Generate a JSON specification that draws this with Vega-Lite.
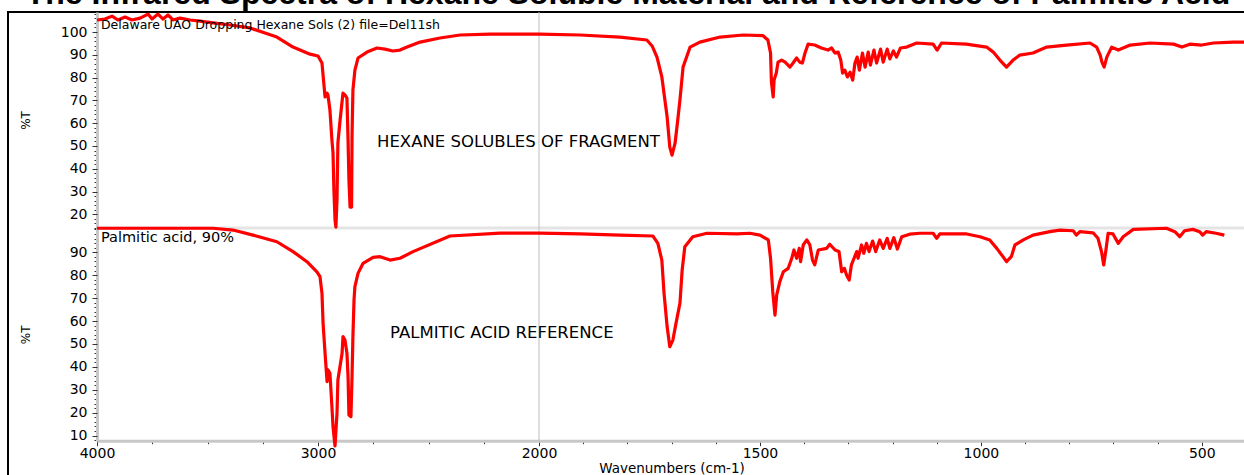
{
  "$schema": "https://vega.github.io/schema/vega-lite/v6.json",
  "width": 1240,
  "height": 467,
  "autosize": "none",
  "padding": {"left": 8, "top": 12, "right": 0, "bottom": 0},
  "background": "white",
  "title": {"text": "The Infrared Spectra of Hexane Soluble Material and Reference of Palmitic Acid", "font": "Liberation Sans", "fontSize": 32, "fontWeight": "bold", "color": "#000", "anchor": "middle", "offset": 1},
  "config": {
    "view": {"stroke": "#000", "strokeWidth": 2},
    "axis": {"labelFont": "DejaVu Sans", "labelFontSize": 14, "labelColor": "#000", "domainColor": "#c8c8c8", "domainWidth": 3, "tickColor": "#333", "tickWidth": 1, "grid": false, "titleColor": "#000", "titleFont": "DejaVu Sans", "titleFontWeight": "normal", "labelOverlap": false, "labelFlush": false}
  },
  "datasets": {
    "top": [
      {"wn":4000,"T":105.3},{"wn":3964,"T":105.7},{"wn":3932,"T":107.0},{"wn":3905,"T":105.3},{"wn":3873,"T":106.6},{"wn":3842,"T":105.3},{"wn":3805,"T":106.1},{"wn":3769,"T":107.9},{"wn":3751,"T":105.7},{"wn":3724,"T":107.9},{"wn":3701,"T":105.7},{"wn":3679,"T":107.5},{"wn":3656,"T":105.3},{"wn":3624,"T":106.1},{"wn":3579,"T":105.3},{"wn":3534,"T":104.8},{"wn":3466,"T":103.9},{"wn":3398,"T":103.1},{"wn":3308,"T":101.8},{"wn":3240,"T":99.6},{"wn":3186,"T":97.8},{"wn":3113,"T":93.4},{"wn":3036,"T":90.3},{"wn":3000,"T":89.5},{"wn":2982,"T":86.4},{"wn":2973,"T":76.7},{"wn":2968,"T":71.5},{"wn":2959,"T":73.2},{"wn":2955,"T":72.4},{"wn":2946,"T":65.8},{"wn":2937,"T":52.6},{"wn":2932,"T":46.9},{"wn":2928,"T":30.7},{"wn":2923,"T":17.5},{"wn":2919,"T":14.4},{"wn":2914,"T":26.3},{"wn":2910,"T":51.3},{"wn":2900,"T":61.4},{"wn":2887,"T":73.2},{"wn":2878,"T":72.4},{"wn":2869,"T":71.0},{"wn":2864,"T":52.6},{"wn":2860,"T":35.1},{"wn":2855,"T":23.2},{"wn":2848,"T":23.2},{"wn":2846,"T":53.9},{"wn":2842,"T":74.5},{"wn":2833,"T":83.3},{"wn":2819,"T":88.6},{"wn":2778,"T":91.2},{"wn":2733,"T":93.0},{"wn":2697,"T":92.5},{"wn":2661,"T":91.7},{"wn":2629,"T":92.1},{"wn":2597,"T":93.4},{"wn":2538,"T":95.6},{"wn":2448,"T":97.4},{"wn":2357,"T":98.7},{"wn":2222,"T":99.1},{"wn":2086,"T":99.1},{"wn":2000,"T":99.1},{"wn":1907,"T":98.7},{"wn":1817,"T":97.8},{"wn":1756,"T":96.5},{"wn":1744,"T":93.9},{"wn":1733,"T":89.0},{"wn":1722,"T":80.3},{"wn":1710,"T":62.7},{"wn":1704,"T":49.5},{"wn":1699,"T":46.0},{"wn":1692,"T":51.3},{"wn":1686,"T":61.4},{"wn":1681,"T":70.2},{"wn":1674,"T":84.6},{"wn":1658,"T":93.4},{"wn":1636,"T":95.6},{"wn":1590,"T":97.8},{"wn":1538,"T":98.7},{"wn":1493,"T":98.4},{"wn":1482,"T":96.5},{"wn":1476,"T":90.8},{"wn":1474,"T":78.1},{"wn":1470,"T":71.5},{"wn":1468,"T":78.9},{"wn":1463,"T":82.0},{"wn":1459,"T":86.8},{"wn":1451,"T":87.7},{"wn":1443,"T":86.8},{"wn":1432,"T":84.6},{"wn":1425,"T":86.4},{"wn":1417,"T":88.6},{"wn":1410,"T":86.8},{"wn":1404,"T":86.4},{"wn":1398,"T":90.8},{"wn":1391,"T":94.7},{"wn":1376,"T":94.3},{"wn":1361,"T":93.0},{"wn":1346,"T":92.1},{"wn":1338,"T":93.0},{"wn":1330,"T":90.8},{"wn":1323,"T":91.2},{"wn":1317,"T":87.7},{"wn":1313,"T":82.0},{"wn":1308,"T":83.3},{"wn":1302,"T":80.3},{"wn":1296,"T":82.4},{"wn":1290,"T":78.9},{"wn":1285,"T":86.4},{"wn":1280,"T":89.0},{"wn":1275,"T":83.3},{"wn":1268,"T":90.8},{"wn":1262,"T":84.6},{"wn":1255,"T":91.2},{"wn":1250,"T":85.5},{"wn":1242,"T":92.1},{"wn":1236,"T":86.4},{"wn":1227,"T":92.5},{"wn":1221,"T":86.8},{"wn":1212,"T":92.5},{"wn":1206,"T":88.2},{"wn":1198,"T":91.7},{"wn":1191,"T":89.0},{"wn":1182,"T":93.0},{"wn":1168,"T":93.4},{"wn":1145,"T":95.2},{"wn":1108,"T":94.7},{"wn":1099,"T":92.1},{"wn":1089,"T":95.2},{"wn":1033,"T":94.7},{"wn":987,"T":93.4},{"wn":972,"T":91.2},{"wn":957,"T":87.7},{"wn":942,"T":84.6},{"wn":927,"T":87.7},{"wn":912,"T":89.9},{"wn":882,"T":90.8},{"wn":851,"T":93.4},{"wn":806,"T":94.3},{"wn":753,"T":95.2},{"wn":738,"T":93.4},{"wn":730,"T":89.9},{"wn":726,"T":86.8},{"wn":721,"T":84.6},{"wn":715,"T":89.0},{"wn":704,"T":93.4},{"wn":689,"T":92.1},{"wn":662,"T":94.3},{"wn":617,"T":95.2},{"wn":564,"T":94.7},{"wn":545,"T":93.4},{"wn":527,"T":94.7},{"wn":500,"T":94.3},{"wn":474,"T":95.2},{"wn":429,"T":95.6},{"wn":400,"T":95.6}
    ],
    "bottom": [
      {"wn":4000,"T":100.5},{"wn":3475,"T":100.5},{"wn":3385,"T":99.7},{"wn":3294,"T":97.5},{"wn":3186,"T":94.6},{"wn":3113,"T":90.3},{"wn":3050,"T":85.9},{"wn":3005,"T":81.5},{"wn":2991,"T":79.4},{"wn":2982,"T":72.1},{"wn":2977,"T":59.0},{"wn":2968,"T":45.9},{"wn":2959,"T":33.6},{"wn":2955,"T":38.7},{"wn":2946,"T":37.2},{"wn":2937,"T":22.6},{"wn":2932,"T":13.9},{"wn":2923,"T":5.5},{"wn":2914,"T":19.8},{"wn":2910,"T":34.3},{"wn":2891,"T":45.9},{"wn":2887,"T":53.2},{"wn":2878,"T":51.7},{"wn":2869,"T":45.9},{"wn":2864,"T":35.7},{"wn":2860,"T":19.0},{"wn":2851,"T":18.3},{"wn":2846,"T":35.7},{"wn":2842,"T":53.2},{"wn":2837,"T":69.2},{"wn":2833,"T":75.0},{"wn":2819,"T":80.8},{"wn":2796,"T":85.2},{"wn":2751,"T":87.8},{"wn":2719,"T":88.1},{"wn":2674,"T":86.6},{"wn":2629,"T":87.4},{"wn":2570,"T":90.3},{"wn":2403,"T":97.1},{"wn":2176,"T":98.4},{"wn":2000,"T":98.4},{"wn":1907,"T":98.0},{"wn":1817,"T":97.5},{"wn":1742,"T":97.1},{"wn":1731,"T":93.9},{"wn":1722,"T":86.6},{"wn":1717,"T":72.1},{"wn":1710,"T":57.5},{"wn":1704,"T":48.8},{"wn":1697,"T":51.7},{"wn":1690,"T":59.0},{"wn":1681,"T":67.8},{"wn":1676,"T":82.3},{"wn":1670,"T":92.4},{"wn":1652,"T":96.8},{"wn":1620,"T":98.3},{"wn":1552,"T":98.0},{"wn":1523,"T":98.3},{"wn":1500,"T":97.5},{"wn":1481,"T":95.4},{"wn":1476,"T":87.4},{"wn":1471,"T":72.8},{"wn":1466,"T":62.6},{"wn":1462,"T":71.4},{"wn":1455,"T":77.2},{"wn":1447,"T":81.5},{"wn":1436,"T":83.0},{"wn":1428,"T":87.4},{"wn":1423,"T":91.0},{"wn":1417,"T":87.4},{"wn":1411,"T":91.7},{"wn":1408,"T":85.9},{"wn":1402,"T":93.2},{"wn":1394,"T":95.4},{"wn":1387,"T":93.2},{"wn":1381,"T":86.6},{"wn":1376,"T":84.5},{"wn":1368,"T":91.0},{"wn":1349,"T":91.7},{"wn":1342,"T":93.5},{"wn":1330,"T":91.0},{"wn":1321,"T":90.3},{"wn":1315,"T":81.5},{"wn":1309,"T":83.0},{"wn":1304,"T":80.1},{"wn":1298,"T":77.9},{"wn":1293,"T":84.5},{"wn":1287,"T":87.4},{"wn":1281,"T":90.3},{"wn":1278,"T":87.4},{"wn":1270,"T":93.2},{"wn":1265,"T":89.6},{"wn":1259,"T":93.9},{"wn":1253,"T":90.3},{"wn":1245,"T":94.9},{"wn":1238,"T":90.3},{"wn":1229,"T":95.4},{"wn":1221,"T":91.7},{"wn":1212,"T":96.1},{"wn":1206,"T":91.7},{"wn":1197,"T":96.4},{"wn":1189,"T":91.4},{"wn":1179,"T":96.8},{"wn":1161,"T":97.9},{"wn":1138,"T":98.3},{"wn":1108,"T":98.3},{"wn":1100,"T":96.1},{"wn":1093,"T":98.0},{"wn":1032,"T":98.0},{"wn":1002,"T":96.8},{"wn":980,"T":95.4},{"wn":964,"T":91.7},{"wn":950,"T":88.1},{"wn":942,"T":85.9},{"wn":931,"T":88.1},{"wn":923,"T":93.2},{"wn":904,"T":95.4},{"wn":882,"T":97.5},{"wn":844,"T":99.0},{"wn":821,"T":99.7},{"wn":791,"T":99.4},{"wn":784,"T":97.5},{"wn":776,"T":99.0},{"wn":746,"T":98.5},{"wn":735,"T":96.1},{"wn":727,"T":90.3},{"wn":722,"T":84.5},{"wn":717,"T":91.0},{"wn":712,"T":98.3},{"wn":701,"T":98.0},{"wn":689,"T":93.9},{"wn":678,"T":96.8},{"wn":655,"T":100.0},{"wn":580,"T":100.5},{"wn":561,"T":99.0},{"wn":550,"T":96.8},{"wn":539,"T":99.4},{"wn":520,"T":100.0},{"wn":505,"T":99.0},{"wn":498,"T":97.5},{"wn":490,"T":99.0},{"wn":468,"T":98.3},{"wn":449,"T":97.5}
    ]
  },
  "layer": [
    {
      "layer": [
        {
          "data": {"values": [{}]},
          "mark": {"type": "rule", "color": "#e4e4e4", "strokeWidth": 3},
          "encoding": {
            "x": {"datum": 4000, "type": "quantitative"}, "x2": {"datum": 400},
            "y": {"datum": 14, "type": "quantitative",
              "scale": {"domain": [14, 108.8], "range": [216, 0], "nice": false, "zero": false},
              "axis": {"orient": "left", "offset": -89, "title": null, "labels": false, "tickSize": 3,
                "values": [14,16,18,22,24,26,28,32,34,36,38,42,44,46,48,52,54,56,58,62,64,66,68,72,74,76,78,82,84,86,88,92,94,96,98,102,104,106,108]}
            }
          }
        },
        {
          "data": {"values": [{}]},
          "mark": {"type": "rule", "color": "#bdbdbd", "strokeWidth": 1},
          "encoding": {
            "x": {"datum": 2000, "type": "quantitative"},
            "y": {"datum": 14, "type": "quantitative", "scale": {"domain": [14, 108.8], "range": [216, 0], "nice": false, "zero": false}, "axis": null},
            "y2": {"datum": 108.8}
          }
        },
        {
          "data": {"name": "top"},
          "mark": {"type": "line", "color": "#ff0000", "strokeWidth": 3.2, "strokeJoin": "round"},
          "encoding": {
            "x": {
              "field": "wn", "type": "quantitative",
              "scale": {"domain": [4000, 2000, 400], "range": [89, 531, 1238], "nice": false, "zero": false},
              "axis": {
                "orient": "bottom", "offset": -38.3, "title": "Wavenumbers (cm-1)", "titleFontSize": 13.5, "titlePadding": 1,
                "format": "d", "labelOverlap": false, "labelFlush": false,
                "values": [4000,3750,3500,3250,3000,2750,2500,2250,2000,1900,1800,1700,1600,1500,1400,1300,1200,1100,1000,900,800,700,600,500],
                "labelExpr": "indexof([4000,3000,2000,1500,1000,500], datum.value) >= 0 ? datum.label : ''",
                "tickSize": {"condition": {"test": "indexof([4000,3000,2000,1500,1000,500], datum.value) >= 0", "value": 5}, "value": 3},
                "labelPadding": 1
              }
            },
            "y": {
              "field": "T", "type": "quantitative",
              "scale": {"domain": [14, 108.8], "range": [216, 0], "nice": false, "zero": false},
              "axis": {
                "orient": "left", "offset": -89, "title": "%T", "titleFontSize": 12, "titleX": -72, "titleBaseline": "middle", "titleAngle": -90,
                "format": "d", "domain": false, "tickSize": 5, "labelPadding": 5,
                "values": [20,30,40,50,60,70,80,90,100]
              }
            }
          }
        },
        {
          "data": {"values": [{"label": "Delaware UAO Dropping Hexane Sols (2) file=Del11sh"}]},
          "mark": {"type": "text", "align": "left", "baseline": "alphabetic", "font": "DejaVu Sans", "fontSize": 12.5, "color": "#000"},
          "encoding": {
            "x": {"datum": 3982, "type": "quantitative"},
            "y": {"datum": 101.4, "type": "quantitative", "scale": {"domain": [14, 108.8], "range": [216, 0], "nice": false, "zero": false}, "axis": null},
            "text": {"field": "label"}
          }
        },
        {
          "data": {"values": [{"label": "HEXANE SOLUBLES OF FRAGMENT"}]},
          "mark": {"type": "text", "align": "left", "baseline": "alphabetic", "font": "DejaVu Sans", "fontSize": 16.5, "color": "#000"},
          "encoding": {
            "x": {"datum": 2733, "type": "quantitative"},
            "y": {"datum": 49.7, "type": "quantitative", "scale": {"domain": [14, 108.8], "range": [216, 0], "nice": false, "zero": false}, "axis": null},
            "text": {"field": "label"}
          }
        }
      ],
      "resolve": {"scale": {"y": "independent"}, "axis": {"y": "independent"}}
    },
    {
      "layer": [
        {
          "data": {"values": [{}]},
          "mark": {"type": "rule", "color": "#bdbdbd", "strokeWidth": 1},
          "encoding": {
            "x": {"datum": 2000, "type": "quantitative"},
            "y": {"datum": 7.8, "type": "quantitative",
              "scale": {"domain": [7.8, 100.6], "range": [428.7, 216], "nice": false, "zero": false},
              "axis": {"orient": "left", "offset": -89, "title": null, "labels": false, "tickSize": 3,
                "values": [8,12,14,16,18,22,24,26,28,32,34,36,38,42,44,46,48,52,54,56,58,62,64,66,68,72,74,76,78,82,84,86,88,92,94,96,98,100]}
            },
            "y2": {"datum": 100.6}
          }
        },
        {
          "data": {"name": "bottom"},
          "mark": {"type": "line", "color": "#ff0000", "strokeWidth": 3.2, "strokeJoin": "round"},
          "encoding": {
            "x": {
              "field": "wn", "type": "quantitative",
              "scale": {"domain": [4000, 2000, 400], "range": [89, 531, 1238], "nice": false, "zero": false},
              "axis": {
                "orient": "bottom", "offset": -38.3, "title": "Wavenumbers (cm-1)", "titleFontSize": 13.5, "titlePadding": 1,
                "format": "d", "labelOverlap": false, "labelFlush": false,
                "values": [4000,3750,3500,3250,3000,2750,2500,2250,2000,1900,1800,1700,1600,1500,1400,1300,1200,1100,1000,900,800,700,600,500],
                "labelExpr": "indexof([4000,3000,2000,1500,1000,500], datum.value) >= 0 ? datum.label : ''",
                "tickSize": {"condition": {"test": "indexof([4000,3000,2000,1500,1000,500], datum.value) >= 0", "value": 5}, "value": 3},
                "labelPadding": 1
              }
            },
            "y": {
              "field": "T", "type": "quantitative",
              "scale": {"domain": [7.8, 100.6], "range": [428.7, 216], "nice": false, "zero": false},
              "axis": {
                "orient": "left", "offset": -89, "title": "%T", "titleFontSize": 12, "titleX": -72, "titleBaseline": "middle", "titleAngle": -90,
                "format": "d", "domain": false, "tickSize": 5, "labelPadding": 5,
                "values": [10,20,30,40,50,60,70,80,90]
              }
            }
          }
        },
        {
          "data": {"values": [{"label": "Palmitic acid, 90%"}]},
          "mark": {"type": "text", "align": "left", "baseline": "alphabetic", "font": "DejaVu Sans", "fontSize": 14.5, "color": "#000"},
          "encoding": {
            "x": {"datum": 3982, "type": "quantitative"},
            "y": {"datum": 94.5, "type": "quantitative", "scale": {"domain": [7.8, 100.6], "range": [428.7, 216], "nice": false, "zero": false}, "axis": null},
            "text": {"field": "label"}
          }
        },
        {
          "data": {"values": [{"label": "PALMITIC ACID REFERENCE"}]},
          "mark": {"type": "text", "align": "left", "baseline": "alphabetic", "font": "DejaVu Sans", "fontSize": 16.5, "color": "#000"},
          "encoding": {
            "x": {"datum": 2674, "type": "quantitative"},
            "y": {"datum": 52.7, "type": "quantitative", "scale": {"domain": [7.8, 100.6], "range": [428.7, 216], "nice": false, "zero": false}, "axis": null},
            "text": {"field": "label"}
          }
        }
      ],
      "resolve": {"scale": {"y": "independent"}, "axis": {"y": "independent"}}
    }
  ],
  "resolve": {"scale": {"y": "independent"}, "axis": {"y": "independent"}}
}
